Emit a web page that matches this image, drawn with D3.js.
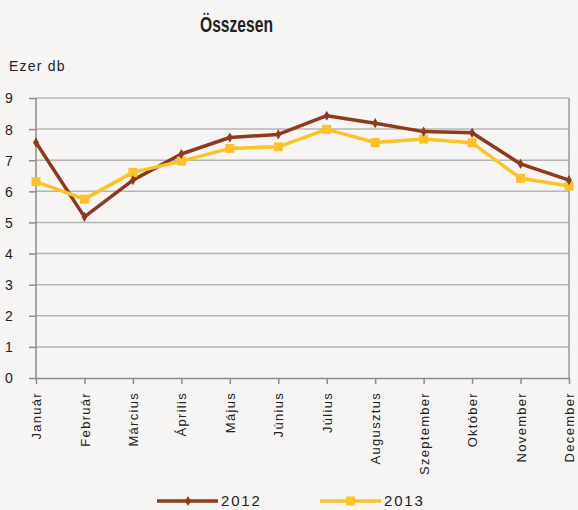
<!DOCTYPE html>
<html>
<head>
<meta charset="utf-8">
<script src="https://cdn.jsdelivr.net/npm/d3@7"></script>
<style>
  body { margin: 0; background: #f6f5f3; }
  svg { display: block; }
  .grid line { stroke: #b4b4b4; stroke-width: 1.5; }
  .axis path, .axis line { stroke: #8c8c8c; stroke-width: 1.5; }
  .axis text { font-family: "Liberation Sans", Arial, sans-serif; font-size: 14px; fill: #222; }
</style>
</head>
<body>
<div id="chart"></div>
<script>
// data
var months = ["Január", "Február", "Március", "Április", "Május", "Június",
              "Július", "Augusztus", "Szeptember", "Október", "November", "December"];
var values2012 = [7.57, 5.18, 6.36, 7.2, 7.73, 7.83, 8.43, 8.19, 7.92, 7.88, 6.88, 6.36];
var values2013 = [6.31, 5.75, 6.61, 6.97, 7.38, 7.43, 7.99, 7.57, 7.68, 7.56, 6.42, 6.17];
var yTicks = [0, 1, 2, 3, 4, 5, 6, 7, 8, 9];
var seriesNames = ["2012", "2013"];

var colors = {"2012": "#8e3a1e", "2013": "#fcc22a"};

var margin = {top: 98, right: 9, bottom: 132, left: 36},
    W = 578, H = 510,
    width = W - margin.left - margin.right,
    height = H - margin.top - margin.bottom;

var svgRoot = d3.select("#chart").append("svg")
  .attr("width", W)
  .attr("height", H);

svgRoot.append("rect").attr("width", W).attr("height", H).attr("fill", "#f6f5f3");

var svg = svgRoot.append("g")
  .attr("transform", "translate(" + margin.left + "," + margin.top + ")");

var x = d3.scalePoint()
  .domain(months)
  .range([0, width]);

var y = d3.scaleLinear()
  .domain([0, 9])
  .range([height, 0]);

// gridlines
svg.append("g")
  .attr("class", "grid")
  .selectAll("line")
  .data(yTicks.slice(1))
  .enter().append("line")
    .attr("x1", 0)
    .attr("x2", width)
    .attr("y1", d => y(d))
    .attr("y2", d => y(d));

// right border
svg.append("line")
  .attr("x1", width).attr("x2", width)
  .attr("y1", 0).attr("y2", height)
  .attr("stroke", "#9a9a9a").attr("stroke-width", 1.5);

// y axis
var yAxis = svg.append("g")
  .attr("class", "axis")
  .call(d3.axisLeft(y).tickValues(yTicks).tickSize(7).tickFormat(d3.format("d")));
yAxis.select(".domain").remove();
yAxis.append("line").attr("x1", 0).attr("x2", 0).attr("y1", 0).attr("y2", height)
  .attr("stroke", "#8c8c8c").attr("stroke-width", 1.5);
yAxis.selectAll("text")
  .attr("text-anchor", "start")
  .attr("x", -31)
  .attr("dy", "0.35em");

// x axis
var xAxis = svg.append("g")
  .attr("class", "axis")
  .attr("transform", "translate(0," + height + ")")
  .call(d3.axisBottom(x).tickSize(6).tickSizeOuter(0));
xAxis.selectAll("text")
  .attr("transform", "rotate(-90)")
  .attr("text-anchor", "end")
  .attr("x", -14)
  .attr("y", 0)
  .attr("dy", "0.35em")
  .style("font-size", "13px")
  .style("letter-spacing", "1.3px");

// lines
var line = d3.line()
  .x((d, i) => x(months[i]))
  .y(d => y(d));

function drawSeries(name, vals) {
  svg.append("path")
    .datum(vals)
    .attr("fill", "none")
    .attr("stroke", colors[name])
    .attr("stroke-width", 3.5)
    .attr("stroke-linejoin", "round")
    .attr("d", line);
}
drawSeries("2012", values2012);
drawSeries("2013", values2013);

// markers
svg.selectAll(".m2013")
  .data(values2013)
  .enter().append("rect")
    .attr("class", "m2013")
    .attr("x", (d, i) => x(months[i]) - 4.5)
    .attr("y", d => y(d) - 4.5)
    .attr("width", 9)
    .attr("height", 9)
    .attr("fill", colors["2013"]);

svg.selectAll(".m2012")
  .data(values2012)
  .enter().append("path")
    .attr("class", "m2012")
    .attr("transform", (d, i) => "translate(" + x(months[i]) + "," + y(d) + ")")
    .attr("d", d3.symbol().type(d3.symbolDiamond).size(30))
    .attr("fill", colors["2012"]);

// title
svgRoot.append("text")
  .attr("x", 200)
  .attr("y", 32)
  .attr("textLength", 73)
  .attr("lengthAdjust", "spacingAndGlyphs")
  .style("font-family", "'Liberation Sans', Arial, sans-serif")
  .style("font-weight", "bold")
  .style("font-size", "22px")
  .style("fill", "#222")
  .text("Összesen");

svgRoot.append("text")
  .attr("x", 9)
  .attr("y", 71)
  .style("font-family", "'Liberation Sans', Arial, sans-serif")
  .style("font-size", "14px")
  .style("letter-spacing", "1.2px")
  .style("fill", "#222")
  .text("Ezer db");

// legend
var legendX = [157, 320];
var legend = svgRoot.selectAll(".legend")
  .data(seriesNames)
  .enter().append("g")
    .attr("class", "legend")
    .attr("transform", (d, i) => "translate(" + legendX[i] + ",501)");

legend.append("line")
  .attr("x1", 0).attr("x2", 61)
  .attr("stroke", d => colors[d])
  .attr("stroke-width", 3.5);

legend.filter(d => d === "2013").append("rect")
  .attr("x", 26).attr("y", -4.5).attr("width", 9).attr("height", 9)
  .attr("fill", colors["2013"]);
legend.filter(d => d === "2012").append("path")
  .attr("transform", "translate(31,0)")
  .attr("d", d3.symbol().type(d3.symbolDiamond).size(30))
  .attr("fill", colors["2012"]);

legend.append("text")
  .attr("x", 64)
  .attr("dy", "0.35em")
  .style("font-family", "'Liberation Sans', Arial, sans-serif")
  .style("font-size", "15px")
  .style("letter-spacing", "1.8px")
  .style("fill", "#222")
  .text(d => d);
</script>
</body>
</html>
